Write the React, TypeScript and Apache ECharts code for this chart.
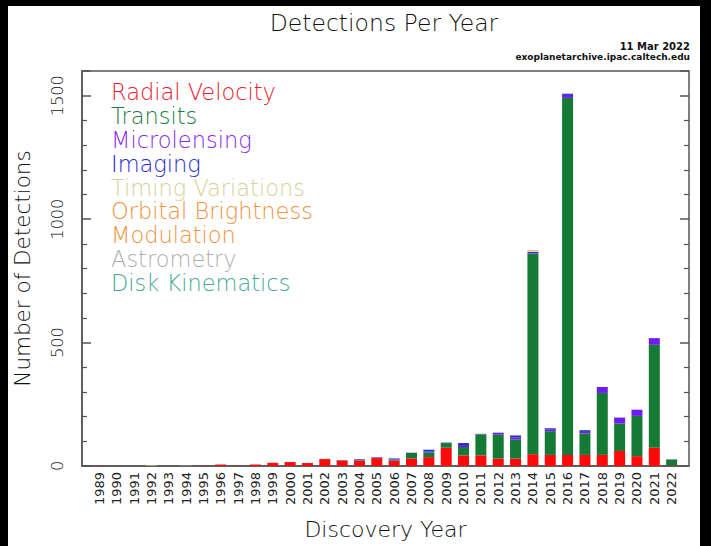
import React, { useEffect, useRef } from "react";
import * as echarts from "echarts";

const years = [
  1989, 1990, 1991, 1992, 1993, 1994, 1995, 1996, 1997, 1998, 1999, 2000,
  2001, 2002, 2003, 2004, 2005, 2006, 2007, 2008, 2009, 2010, 2011, 2012,
  2013, 2014, 2015, 2016, 2017, 2018, 2019, 2020, 2021, 2022,
];
// the axis runs one year beyond the data on each side
const axisStart = 1988;
const axisEnd = 2023;

const radialVelocity = [
  1, 0, 0, 0, 0, 0, 1, 6, 1, 6, 13, 16, 12, 28, 22, 22, 32, 22, 31, 36, 74,
  43, 43, 30, 30, 48, 45, 45, 45, 45, 61, 40, 74, 2,
];
const transits = [
  0, 0, 0, 0, 0, 0, 0, 0, 0, 0, 0, 0, 0, 1, 1, 2, 1, 4, 22, 18, 19, 34, 84,
  97, 77, 812, 96, 1446, 87, 251, 111, 163, 417, 24,
];
const microlensing = [
  0, 0, 0, 0, 0, 0, 0, 0, 0, 0, 0, 0, 0, 0, 1, 2, 2, 3, 1, 4, 1, 8, 1, 7, 8,
  2, 8, 12, 6, 24, 24, 25, 27, 1,
];
const imaging = [
  0, 0, 0, 0, 0, 0, 0, 0, 0, 0, 0, 0, 0, 0, 0, 2, 1, 2, 0, 8, 1, 8, 2, 1, 9,
  6, 4, 5, 7, 0, 0, 0, 0, 0,
];
const timingVariations = [
  0, 0, 0, 2, 0, 1, 0, 0, 0, 0, 0, 0, 0, 0, 0, 0, 0, 0, 0, 0, 0, 0, 3, 0, 0,
  4, 0, 0, 0, 0, 0, 0, 0, 0,
];
const orbitalBrightness = [
  0, 0, 0, 0, 0, 0, 0, 0, 0, 0, 0, 0, 0, 0, 0, 0, 0, 0, 0, 0, 0, 0, 0, 0, 0,
  3, 0, 0, 0, 0, 0, 0, 0, 0,
];
const astrometry = [
  0, 0, 0, 0, 0, 0, 0, 0, 0, 0, 0, 0, 0, 0, 0, 0, 0, 0, 0, 0, 0, 0, 0, 0, 1,
  0, 0, 0, 0, 0, 0, 0, 0, 0,
];
const diskKinematics = [
  0, 0, 0, 0, 0, 0, 0, 0, 0, 0, 0, 0, 0, 0, 0, 0, 0, 0, 0, 0, 0, 0, 0, 0, 0,
  0, 0, 0, 0, 0, 1, 0, 0, 0,
];

const methodNames = [
  "Radial Velocity",
  "Transits",
  "Microlensing",
  "Imaging",
  "Timing Variations",
  "Orbital Brightness Modulation",
  "Astrometry",
  "Disk Kinematics",
];
const methodValues = [
  radialVelocity,
  transits,
  microlensing,
  imaging,
  timingVariations,
  orbitalBrightness,
  astrometry,
  diskKinematics,
];
const barColors = [
  "#ff0a0a",
  "#157a35",
  "#6f1cf0",
  "#2535b8",
  "#efe2b4",
  "#f2a055",
  "#b4b4b4",
  "#5fb8a8",
];
const legendColors = [
  "#e8202e",
  "#1f7a45",
  "#8a2ae6",
  "#2a2ad0",
  "#d6d29a",
  "#ee9440",
  "#b0b0b0",
  "#4aa898",
];

const yTicks = [0, 500, 1000, 1500];
const titleText = "Detections Per Year";
const dateText = "11 Mar 2022";
const sourceText = "exoplanetarchive.ipac.caltech.edu";

const FONT = "'DejaVu Sans', sans-serif";

export default function App() {
  const ref = useRef<HTMLDivElement>(null);
  useEffect(() => {
    if (!ref.current) return;
    const chart = echarts.init(ref.current, null, { renderer: "svg" });
    const categories: string[] = [];
    for (let y = axisStart; y <= axisEnd; y++) categories.push(String(y));
    const series = methodNames.map((name, k) => ({
      name,
      type: "bar",
      stack: "all",
      barWidth: 11,
      itemStyle: { color: barColors[k] },
      data: years.map((y, i) => [String(y), methodValues[k][i]]),
    }));
    chart.setOption({
      animation: false,
      backgroundColor: "#ffffff",
      title: {
        text: titleText,
        left: 371,
        top: 0,
        textAlign: "center",
        textStyle: {
          fontFamily: FONT,
          fontSize: 23.5,
          fontWeight: 200,
          color: "#111",
        },
      },
      graphic: [
        {
          type: "text",
          right: 10,
          top: 35,
          style: {
            text: dateText,
            font: `bold 10px ${FONT}`,
            fill: "#111",
            textAlign: "right",
          },
        },
        {
          type: "text",
          right: 10,
          top: 46,
          style: {
            text: sourceText,
            font: `bold 9px ${FONT}`,
            fill: "#111",
            textAlign: "right",
          },
        },
      ],
      legend: {
        orient: "vertical",
        left: 93,
        top: 69,
        icon: "none",
        itemWidth: 0,
        itemHeight: 24,
        itemGap: 0,
        selectedMode: false,
        formatter: (n: string) => n.replace(" Modulation", "\nModulation"),
        textStyle: {
          fontFamily: FONT,
          fontSize: 22.5,
          fontWeight: 200,
          lineHeight: 23.8,
        },
        data: methodNames.map((name, k) => ({
          name,
          textStyle: { color: legendColors[k] },
        })),
      },
      grid: {
        left: 74,
        right: 11,
        top: 65,
        bottom: 80,
        show: true,
        borderColor: "#555",
        borderWidth: 1.5,
        outerBoundsMode: "none",
        containLabel: false,
      },
      xAxis: {
        type: "category",
        data: categories,
        boundaryGap: false,
        name: "Discovery Year",
        nameLocation: "middle",
        nameGap: 52,
        nameTextStyle: {
          fontFamily: FONT,
          fontSize: 22,
          fontWeight: 200,
          color: "#111",
        },
        axisLine: { show: true, lineStyle: { color: "#555", width: 1.5 } },
        axisTick: { show: false },
        splitLine: { show: false },
        axisLabel: {
          interval: 0,
          rotate: 90,
          margin: 6,
          fontFamily: FONT,
          fontSize: 13,
          color: "#222",
          formatter: (v: string) => (years.includes(Number(v)) ? v : ""),
        },
      },
      yAxis: [
        {
          type: "value",
          min: 0,
          max: 1600,
          interval: 500,
          name: "Number of Detections",
          nameLocation: "middle",
          nameGap: 49,
          nameTextStyle: {
            fontFamily: FONT,
            fontSize: 21.5,
            fontWeight: 200,
            color: "#111",
          },
          axisLine: { show: true, lineStyle: { color: "#555", width: 1.5 } },
          axisTick: {
            show: true,
            inside: true,
            length: 9,
            lineStyle: { color: "#555", width: 1.5 },
          },
          minorTick: {
            show: true,
            splitNumber: 5,
            length: 5,
            lineStyle: { color: "#555", width: 1.2 },
          },
          splitLine: { show: false },
          axisLabel: {
            rotate: 90,
            margin: 17,
            showMaxLabel: false,
            fontFamily: FONT,
            fontSize: 16,
            fontWeight: 200,
            color: "#111",
            formatter: (v: number) => (yTicks.includes(v) ? String(v) : ""),
          },
        },
        {
          type: "value",
          position: "right",
          min: 0,
          max: 1600,
          interval: 500,
          axisLine: { show: false },
          axisTick: {
            show: true,
            inside: true,
            length: 9,
            lineStyle: { color: "#555", width: 1.5 },
          },
          minorTick: {
            show: true,
            splitNumber: 5,
            length: 5,
            lineStyle: { color: "#555", width: 1.2 },
          },
          splitLine: { show: false },
          axisLabel: { show: false },
        },
      ],
      series,
    });
    return () => chart.dispose();
  }, []);
  return (
    <div
      style={{
        position: "absolute",
        left: 0,
        top: 0,
        width: 711,
        height: 546,
        background: "#000",
      }}
    >
      <div
        ref={ref}
        style={{
          position: "absolute",
          left: 8,
          top: 6,
          width: 692,
          height: 540,
          background: "#fff",
        }}
      />
    </div>
  );
}
